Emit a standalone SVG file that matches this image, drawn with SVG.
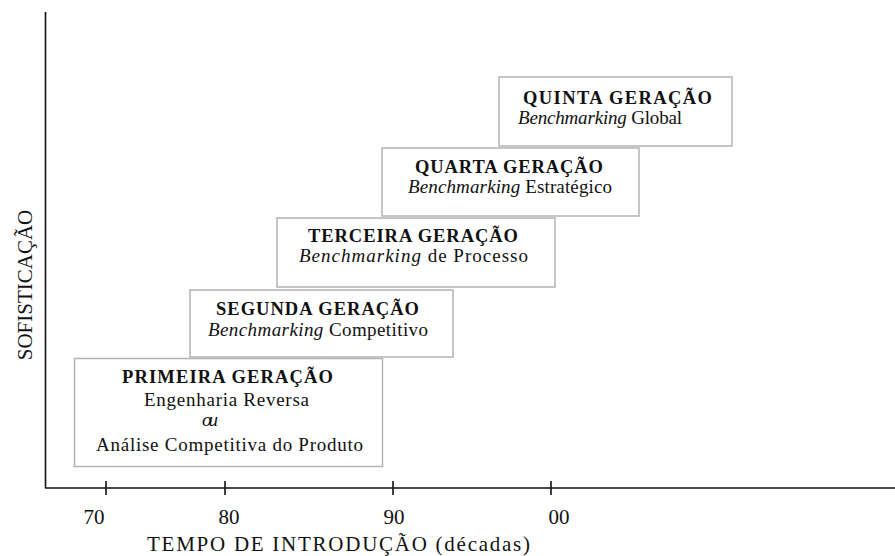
<svg xmlns="http://www.w3.org/2000/svg" width="895" height="556" viewBox="0 0 895 556">
<style>
text{font-family:"Liberation Serif","Times New Roman",serif;fill:#111}
.box{fill:#fff;stroke:#b4b4b4;stroke-width:1.5}
.h{font-weight:bold;font-size:18.5px}
.t{font-size:19px}
.i{font-style:italic}
.ax{stroke:#111;stroke-width:1.6;fill:none}
.tk{font-size:21px;text-anchor:middle}
</style>
<rect width="895" height="556" fill="#fff"/>
<g id="axes">
<line class="ax" x1="45.5" y1="12" x2="45.5" y2="488"/>
<line class="ax" x1="45" y1="488" x2="895" y2="488"/>
<line class="ax" x1="106" y1="481" x2="106" y2="495"/>
<line class="ax" x1="225" y1="481" x2="225" y2="495"/>
<line class="ax" x1="393" y1="481" x2="393" y2="495"/>
<line class="ax" x1="551" y1="481" x2="551" y2="495"/>
<text class="tk" x="94" y="524">70</text>
<text class="tk" x="229" y="524">80</text>
<text class="tk" x="394" y="524">90</text>
<text class="tk" x="559" y="524">00</text>
<text x="147" y="551" font-size="21" textLength="383" lengthAdjust="spacing">TEMPO DE INTRODUÇÃO (décadas)</text>
<text x="0" y="0" font-size="21" text-anchor="middle" transform="translate(32 285) rotate(-90)">SOFISTICAÇÃO</text>
</g>
<g id="g1">
<rect class="box" x="74.5" y="358.5" width="308" height="108"/>
<text class="h" x="122" y="383" textLength="211" lengthAdjust="spacing">PRIMEIRA  GERAÇÃO</text>
<text class="t" x="144" y="406" textLength="165" lengthAdjust="spacing">Engenharia Reversa</text>
<text class="t i" x="202" y="426" textLength="16" lengthAdjust="spacing">ou</text>
<text class="t" x="96" y="451" textLength="267" lengthAdjust="spacing">Análise Competitiva  do Produto</text>
</g>
<g id="g2">
<rect class="box" x="190" y="290" width="263" height="67"/>
<text class="h" x="216" y="315" textLength="203" lengthAdjust="spacing">SEGUNDA  GERAÇÃO</text>
<text class="t" x="208" y="336" textLength="220" lengthAdjust="spacing"><tspan class="i">Benchmarking</tspan> Competitivo</text>
</g>
<g id="g3">
<rect class="box" x="277" y="218" width="278" height="69"/>
<text class="h" x="308" y="242" textLength="210" lengthAdjust="spacing">TERCEIRA  GERAÇÃO</text>
<text class="t" x="299" y="262" textLength="229" lengthAdjust="spacing"><tspan class="i">Benchmarking</tspan> de Processo</text>
</g>
<g id="g4">
<rect class="box" x="382" y="148" width="257" height="68"/>
<text class="h" x="415" y="173" textLength="188" lengthAdjust="spacing">QUARTA  GERAÇÃO</text>
<text class="t" x="408" y="193" textLength="204" lengthAdjust="spacing"><tspan class="i">Benchmarking</tspan> Estratégico</text>
</g>
<g id="g5">
<rect class="box" x="499" y="77" width="233" height="69"/>
<text class="h" x="523" y="104" textLength="189" lengthAdjust="spacing">QUINTA  GERAÇÃO</text>
<text class="t" x="518" y="124" textLength="164" lengthAdjust="spacing"><tspan class="i">Benchmarking</tspan> Global</text>
</g>
<g id="connectors"></g>
</svg>
